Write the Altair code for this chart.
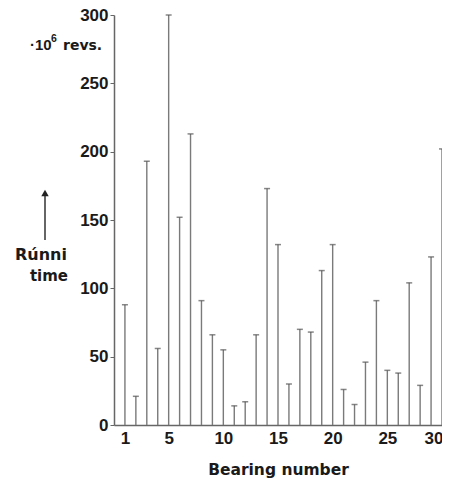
import altair as alt
import pandas as pd

bearings = list(range(1, 31))
revs = [88, 21, 193, 56, 300, 152, 213, 91, 66, 55,
        14, 17, 66, 173, 132, 30, 70, 68, 113, 132,
        26, 15, 46, 91, 40, 38, 104, 29, 123, 202]
x_ticks = [1, 5, 10, 15, 20, 25, 30]
y_ticks = [0, 50, 100, 150, 200, 250, 300]

df = pd.DataFrame({"bearing": bearings, "revs": revs})

FONT = "Liberation Sans"
TFONT = "DejaVu Sans"
TXT = "#1a1a1a"

xs = alt.Scale(domain=[0, 30], nice=False, zero=False)
ys = alt.Scale(domain=[0, 300], nice=False)

x_axis = alt.Axis(values=x_ticks, tickSize=0, labelPadding=5, grid=False,
                  labelAlign=alt.expr("datum.value == 30 ? 'right' : 'center'"),
                  labelOffset=alt.expr("datum.value == 30 ? 1 : 0"),
                  title="Bearing number", titlePadding=16)
y_axis = alt.Axis(values=y_ticks, tickSize=4, labelPadding=2, grid=False, title=None)

base = alt.Chart(df)

stems = base.mark_rule(color="#7a7a7a", strokeWidth=1.4).encode(
    x=alt.X("bearing:Q", scale=xs, axis=x_axis),
    y=alt.Y("revs:Q", scale=ys, axis=y_axis),
    y2=alt.datum(0),
)

caps = base.mark_tick(color="#555555", orient="horizontal", size=6, thickness=1.5).encode(
    x=alt.X("bearing:Q", scale=xs),
    y=alt.Y("revs:Q", scale=ys),
)

ann = pd.DataFrame({"t": [0]})


def label(txt, x, y, size=15, align="left", font=TFONT):
    return alt.Chart(ann).mark_text(
        text=txt, font=font, fontSize=size, fontWeight="bold", color=TXT,
        align=align, baseline="alphabetic", clip=False
    ).encode(x=alt.value(x), y=alt.value(y))


unit10 = label("·10", -84, 35, size=15, font=FONT)
unit6 = label("6", -63, 27, size=10.5, font=FONT)
unitrev = label("revs.", -51, 35, size=14)
run1 = label("Rúnni", -47, 245, size=16, align="right")
run2 = label("time", -46, 266, size=15, align="right")

arrow_line = alt.Chart(ann).mark_rule(color="#333333", strokeWidth=1.5, clip=False).encode(
    x=alt.value(-69), y=alt.value(180), y2=alt.value(225)
)
arrow_head = alt.Chart(ann).mark_point(
    shape="triangle-up", filled=True, color="#222222", size=55, opacity=1, clip=False
).encode(x=alt.value(-69), y=alt.value(178))

chart = alt.layer(stems, caps, unit10, unit6, unitrev, run1, run2,
                  arrow_line, arrow_head).properties(
    width=328, height=410,
    autosize=alt.AutoSizeParams(type="none"),
    padding={"left": 106, "top": 7, "right": 0, "bottom": 55},
).configure_view(stroke=None).configure_axis(
    domainColor="#666666", domainWidth=1.5, tickColor="#666666",
    labelFont=FONT, labelFontSize=17, labelFontWeight="bold", labelColor=TXT,
    titleFont=TFONT, titleFontSize=15.5, titleFontWeight="bold", titleColor=TXT,
    labelFlush=False, labelOverlap=False,
)

chart.save("out.html", embed_options={"renderer": "svg", "actions": False})
